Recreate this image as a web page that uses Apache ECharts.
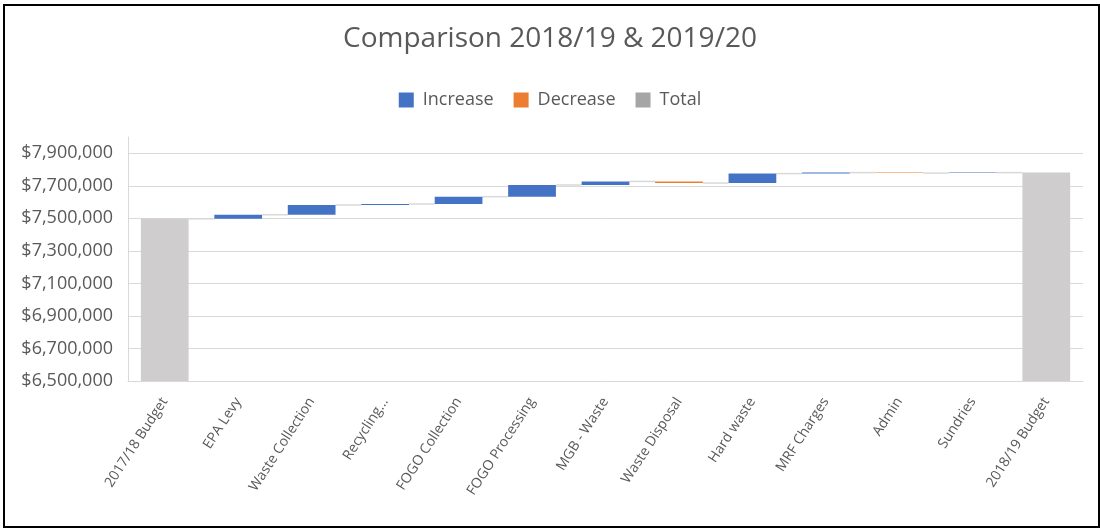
<!DOCTYPE html>
<html lang="en">
<head>
    <meta charset="UTF-8">
    <title>Comparison 2018/19 & 2019/20</title>
    <script src="https://cdn.jsdelivr.net/npm/echarts@6/dist/echarts.min.js"></script>
    <style>
        html, body { margin: 0; padding: 0; background: #fff; }
        #chartBox { position: absolute; left: 0; top: 0; width: 1100px; height: 529px; }
        .frame { position: absolute; left: 3px; top: 4px; width: 1097px; height: 524px; box-sizing: border-box; border: 2px solid #000; pointer-events: none; }
    </style>
</head>
<body>
    <div id="chartBox"></div>
    <div class="frame"></div>
    <script>
        var categories = ['2017/18 Budget', 'EPA Levy', 'Waste Collection', 'Recycling...', 'FOGO Collection',
            'FOGO Processing', 'MGB - Waste', 'Waste Disposal', 'Hard waste', 'MRF Charges', 'Admin', 'Sundries', '2018/19 Budget'];
        var openingTotal = 7497000;
        var closingTotal = 7781000;
        // changes for the 11 middle categories (negative = decrease)
        var changes = [25000, 60000, 6000, 45000, 72000, 22000, -10000, 58000, 6000, -3000, 3000];
        var yTicks = [6500000, 6700000, 6900000, 7100000, 7300000, 7500000, 7700000, 7900000];

        var baseData = ['-'];
        var incData = ['-'];
        var decData = ['-'];
        var totalData = [openingTotal];
        var connectors = [[0, openingTotal]];
        var level = openingTotal;
        for (var i = 0; i < changes.length; i++) {
            var c = changes[i];
            if (c >= 0) {
                baseData.push(level);
                incData.push(c);
                decData.push('-');
            } else {
                baseData.push(level + c);
                incData.push('-');
                decData.push(-c);
            }
            totalData.push('-');
            level += c;
            connectors.push([i + 1, level]);
        }
        baseData.push('-');
        incData.push('-');
        decData.push('-');
        totalData.push(closingTotal);

        var barRatio = 0.65;
        var chart = echarts.init(document.getElementById('chartBox'));
        var option = {
            animation: false,
            title: {
                text: 'Comparison 2018/19 & 2019/20',
                left: 'center',
                top: 20,
                textStyle: {
                    fontFamily: 'Open Sans',
                    fontSize: 28,
                    fontWeight: 'normal',
                    color: '#595959'
                }
            },
            legend: {
                top: 86,
                left: 'center',
                itemWidth: 15,
                itemHeight: 15,
                itemGap: 20,
                icon: 'rect',
                textStyle: {
                    fontFamily: 'Open Sans',
                    fontSize: 18,
                    color: '#595959',
                    padding: [0, 0, 0, 4]
                },
                data: [
                    { name: 'Increase', itemStyle: { color: '#4472C4' } },
                    { name: 'Decrease', itemStyle: { color: '#ED7D31' } },
                    { name: 'Total', itemStyle: { color: '#A5A5A5' } }
                ]
            },
            grid: {
                left: 128,
                right: 17,
                top: 137,
                bottom: 148
            },
            xAxis: {
                type: 'category',
                data: categories,
                axisTick: { show: false },
                axisLine: { lineStyle: { color: '#D9D9D9', width: 1 } },
                axisLabel: {
                    interval: 0,
                    rotate: 57,
                    margin: 18,
                    fontFamily: 'Open Sans',
                    fontSize: 14,
                    color: '#595959'
                }
            },
            yAxis: {
                type: 'value',
                min: yTicks[0],
                max: 8000000,
                interval: 200000,
                axisTick: { show: false },
                axisLine: { show: true, lineStyle: { color: '#D9D9D9', width: 1 } },
                splitLine: { showMaxLine: false, lineStyle: { color: '#D9D9D9', width: 1 } },
                axisLabel: {
                    showMaxLabel: false,
                    margin: 15,
                    fontFamily: 'Open Sans',
                    fontSize: 18,
                    color: '#595959',
                    formatter: function (v) {
                        return '$' + v.toLocaleString('en-US');
                    }
                }
            },
            series: [
                {
                    name: 'base',
                    type: 'bar',
                    stack: 'w',
                    barCategoryGap: '35%',
                    silent: true,
                    itemStyle: { color: 'transparent' },
                    data: baseData
                },
                {
                    name: 'Increase',
                    type: 'bar',
                    stack: 'w',
                    itemStyle: { color: '#4472C4' },
                    data: incData
                },
                {
                    name: 'Decrease',
                    type: 'bar',
                    stack: 'w',
                    itemStyle: { color: '#ED7D31' },
                    data: decData
                },
                {
                    name: 'Total',
                    type: 'bar',
                    stack: 'w',
                    itemStyle: { color: '#CFCDCE' },
                    data: totalData
                },
                {
                    name: 'connector',
                    type: 'custom',
                    silent: true,
                    z: 1,
                    renderItem: function (params, api) {
                        var idx = api.value(0);
                        if (idx >= categories.length - 1) return;
                        var p = api.coord([idx, api.value(1)]);
                        var bw = api.size([1, 0])[0];
                        var half = bw * barRatio / 2;
                        return {
                            type: 'line',
                            shape: { x1: p[0] + half, y1: p[1], x2: p[0] + bw - half, y2: p[1] },
                            style: { stroke: '#D9D9D9', lineWidth: 1.5 }
                        };
                    },
                    data: connectors
                }
            ]
        };
        chart.setOption(option);
    </script>
</body>
</html>
